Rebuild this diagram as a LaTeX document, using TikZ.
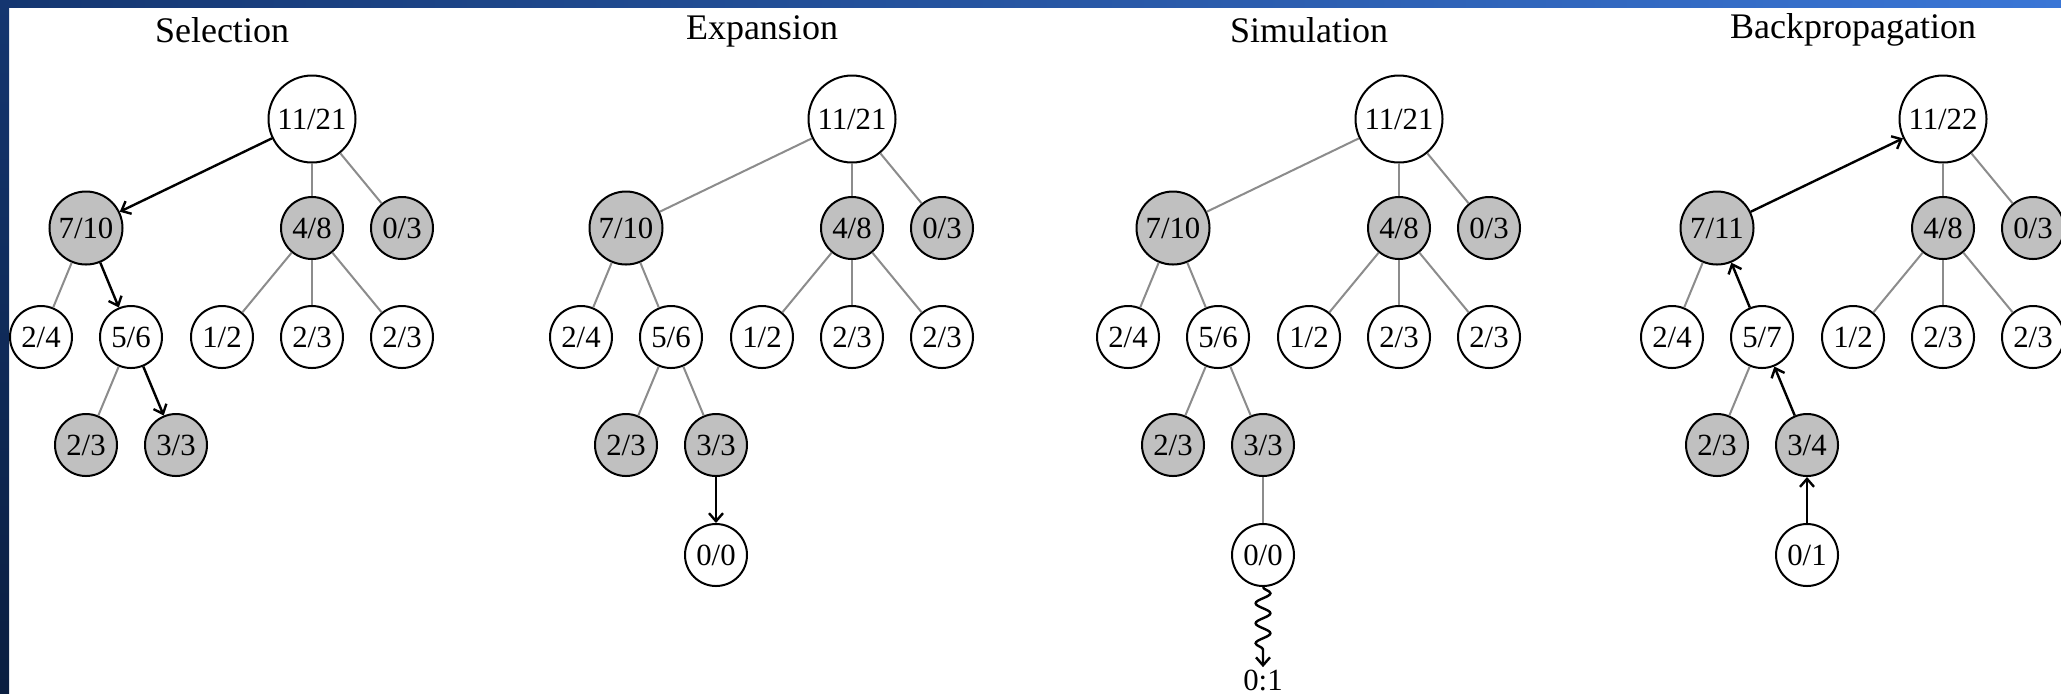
\documentclass[tikz,border=0pt]{standalone}
\usepackage{fontspec}
\setmainfont{Liberation Serif}
\usepackage{tikz}
\usetikzlibrary{arrows.meta,decorations.pathmorphing}

\definecolor{nodegray}{RGB}{192,192,192}
\definecolor{edgegray}{RGB}{140,140,140}
\definecolor{navytop}{RGB}{20,54,112}
\definecolor{navybot}{RGB}{10,30,64}
\definecolor{skyblue}{RGB}{58,118,214}

\tikzset{
  vertex/.style={circle, draw, line width=1pt, fill=white, inner sep=1pt,
    minimum size=31pt, font=\fontsize{15.4}{17}\selectfont},
  root/.style={vertex, minimum size=43.5pt},
  wide/.style={vertex, minimum size=36.5pt},
  visited/.style={fill=nodegray},
  edge/.style={draw=edgegray, line width=1pt},
  walk/.style={->, line width=1.2pt},
  title/.style={font=\fontsize{18}{20}\selectfont},
}

\begin{document}
\begin{tikzpicture}[x=0.5pt,y=-0.5pt,>={Straight Barb[length=4pt,width=7pt]}]
	\useasboundingbox (0,0) rectangle (2061,693);
	% frame
	\fill[white] (0,0) rectangle (2061,693);
	\shade[top color=navytop,bottom color=navybot] (0,0) rectangle (9,693);
	\shade[left color=navytop,right color=skyblue] (0,0) rectangle (2061,7.5);

	% selection
	\begin{scope}[shift={(312,0)}]
		\node[title] (s_t) at (-90,30) {Selection};
		\node[root] (s_0) at (0,119) {11/21};
		\node[wide,visited] (s_1) at (-226,228) {7/10};
		\node[vertex,visited] (s_2) at (0,228) {4/8};
		\node[vertex,visited] (s_3) at (90,228) {0/3};
		\node[vertex] (s_4) at (-271,337) {2/4};
		\node[vertex] (s_5) at (-181,337) {5/6};
		\node[vertex] (s_6) at (-90,337) {1/2};
		\node[vertex] (s_7) at (0,337) {2/3};
		\node[vertex] (s_8) at (90,337) {2/3};
		\node[vertex,visited] (s_9) at (-226,445) {2/3};
		\node[vertex,visited] (s_10) at (-136,445) {3/3};
		\foreach \a/\b in {0/2,0/3,1/4,2/6,2/7,2/8,5/9}
			\path[edge] (s_\a) -- (s_\b);
		\draw[walk] (s_0) -- (s_1);
		\draw[walk] (s_1) -- (s_5);
		\draw[walk] (s_5) -- (s_10);
	\end{scope}

	% expansion
	\begin{scope}[shift={(852,0)}]
		\node[title] (x_t) at (-90,31) {Expansion};
		\node[root] (x_0) at (0,119) {11/21};
		\node[wide,visited] (x_1) at (-226,228) {7/10};
		\node[vertex,visited] (x_2) at (0,228) {4/8};
		\node[vertex,visited] (x_3) at (90,228) {0/3};
		\node[vertex] (x_4) at (-271,337) {2/4};
		\node[vertex] (x_5) at (-181,337) {5/6};
		\node[vertex] (x_6) at (-90,337) {1/2};
		\node[vertex] (x_7) at (0,337) {2/3};
		\node[vertex] (x_8) at (90,337) {2/3};
		\node[vertex,visited] (x_9) at (-226,445) {2/3};
		\node[vertex,visited] (x_10) at (-136,445) {3/3};
		\node[vertex] (x_11) at (-136,555) {0/0};
		\foreach \a/\b in {0/1,0/2,0/3,1/4,1/5,2/6,2/7,2/8,5/9,5/10}
			\path[edge] (x_\a) -- (x_\b);
		\draw[walk] (x_10) -- (x_11);
	\end{scope}

	% simulation
	\begin{scope}[shift={(1399,0)}]
		\node[title] (m_t) at (-90,30) {Simulation};
		\node[root] (m_0) at (0,119) {11/21};
		\node[wide,visited] (m_1) at (-226,228) {7/10};
		\node[vertex,visited] (m_2) at (0,228) {4/8};
		\node[vertex,visited] (m_3) at (90,228) {0/3};
		\node[vertex] (m_4) at (-271,337) {2/4};
		\node[vertex] (m_5) at (-181,337) {5/6};
		\node[vertex] (m_6) at (-90,337) {1/2};
		\node[vertex] (m_7) at (0,337) {2/3};
		\node[vertex] (m_8) at (90,337) {2/3};
		\node[vertex,visited] (m_9) at (-226,445) {2/3};
		\node[vertex,visited] (m_10) at (-136,445) {3/3};
		\node[vertex] (m_11) at (-136,555) {0/0};
		\node[inner sep=1pt,font=\fontsize{15.4}{17}\selectfont] (m_out) at (-136,680) {0:1};
		\foreach \a/\b in {0/1,0/2,0/3,1/4,1/5,2/6,2/7,2/8,5/9,5/10,10/11}
			\path[edge] (m_\a) -- (m_\b);
		\draw[walk,decorate,decoration={snake,amplitude=3.7pt,segment length=10pt,post length=5pt}] (m_11) -- (m_out);
	\end{scope}

	% backpropagation
	\begin{scope}[shift={(1943,0)}]
		\node[title] (b_t) at (-90,30) {Backpropagation};
		\node[root] (b_0) at (0,119) {11/22};
		\node[wide,visited] (b_1) at (-226,228) {7/11};
		\node[vertex,visited] (b_2) at (0,228) {4/8};
		\node[vertex,visited] (b_3) at (90,228) {0/3};
		\node[vertex] (b_4) at (-271,337) {2/4};
		\node[vertex] (b_5) at (-181,337) {5/7};
		\node[vertex] (b_6) at (-90,337) {1/2};
		\node[vertex] (b_7) at (0,337) {2/3};
		\node[vertex] (b_8) at (90,337) {2/3};
		\node[vertex,visited] (b_9) at (-226,445) {2/3};
		\node[vertex,visited] (b_10) at (-136,445) {3/4};
		\node[vertex] (b_11) at (-136,555) {0/1};
		\foreach \a/\b in {0/2,0/3,1/4,2/6,2/7,2/8,5/9}
			\path[edge] (b_\a) -- (b_\b);
		\draw[walk] (b_11) -- (b_10);
		\draw[walk] (b_10) -- (b_5);
		\draw[walk] (b_5) -- (b_1);
		\draw[walk] (b_1) -- (b_0);
	\end{scope}
\end{tikzpicture}
\end{document}
